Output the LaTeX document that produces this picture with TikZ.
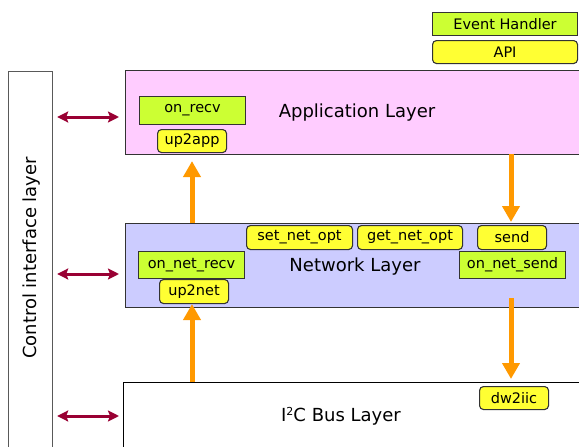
\documentclass[tikz,border=0pt]{standalone}
\usepackage{fontspec}
\setmainfont{DejaVu Sans}
\usetikzlibrary{arrows.meta,calc}
\definecolor{pinkfill}{HTML}{FFCCFF}
\definecolor{bluefill}{HTML}{CCCCFF}
\definecolor{greenfill}{HTML}{CCFF33}
\definecolor{yellowfill}{HTML}{FFFF33}
\definecolor{orangeline}{HTML}{FF9900}
\definecolor{crimson}{HTML}{990033}
\definecolor{edge}{HTML}{333333}
\begin{document}
\begin{tikzpicture}[x=1pt,y=-1pt,
  layerbox/.style={draw=edge,line width=1.2pt,anchor=north west,inner sep=0pt},
  greenbox/.style={draw=edge,line width=1.1pt,fill=greenfill,anchor=north west,inner sep=0pt,font=\fontsize{14.5}{16}\selectfont},
  yellowbox/.style={draw=edge,line width=1.1pt,fill=yellowfill,rounded corners=4pt,anchor=north west,inner sep=0pt,font=\fontsize{14.5}{16}\selectfont},
  bigtext/.style={font=\fontsize{18}{20}\selectfont,inner sep=0pt},
  flow/.style={draw=orangeline,line width=5pt,-{Triangle[width=17pt,length=16pt]}},
  ctrlarrow/.style={draw=crimson,line width=3pt,{Stealth[length=11pt,width=11pt,inset=2pt]}-{Stealth[length=11pt,width=11pt,inset=2pt]}}]
\useasboundingbox (0,0) rectangle (579,447);
\clip (0,0) rectangle (579,447);
% layers
\node[layerbox,draw=black!65,fill=white,minimum width=44pt,minimum height=400pt] (ctrl) at (8,71) {};
\node[bigtext,rotate=90] (ctrltext) at (32,258) {Control interface layer};
\node[layerbox,fill=pinkfill,minimum width=480pt,minimum height=84pt] (app) at (125,70) {};
\node[bigtext] (apptext) at (357,113) {Application Layer};
\node[layerbox,fill=bluefill,minimum width=480pt,minimum height=84pt] (net) at (125,223) {};
\node[bigtext] (nettext) at (355,267) {Network Layer};
\node[layerbox,draw=black,fill=white,minimum width=480pt,minimum height=100pt] (i2c) at (123,382) {};
\node[bigtext] (i2ctext) at (341,416) {I{\fontsize{11}{11}\selectfont\raisebox{6pt}{2}}C Bus Layer};
% top right
\node[greenbox,minimum width=145pt,minimum height=23pt] (evh) at (432,12) {Event Handler};
\node[yellowbox,minimum width=145pt,minimum height=23pt] (api) at (432,40) {API};
% application layer items
\node[greenbox,minimum width=106pt,minimum height=28pt] (onrecv) at (139,96) {on\_recv};
\node[yellowbox,minimum width=69pt,minimum height=23pt] (up2app) at (157,129) {up2app};
% network layer items
\node[yellowbox,minimum width=106pt,minimum height=24pt] (setopt) at (246,225) {set\_net\_opt};
\node[yellowbox,minimum width=105pt,minimum height=24pt] (getopt) at (357,225) {get\_net\_opt};
\node[yellowbox,minimum width=69pt,minimum height=24pt] (send) at (477,225) {send};
\node[greenbox,minimum width=106pt,minimum height=27pt] (onnetsend) at (459,251) {on\_net\_send};
\node[greenbox,minimum width=106pt,minimum height=27pt] (onnetrecv) at (138,251) {on\_net\_recv};
\node[yellowbox,minimum width=69pt,minimum height=24pt] (up2net) at (159,279) {up2net};
% i2c item
\node[yellowbox,minimum width=69pt,minimum height=23pt] (dw2iic) at (479,386) {dw2iic};
% orange flows
\coordinate (upA) at (192,382);
\coordinate (upB) at (192,223);
\draw[flow] (upA) -- (up2net.south -| upA);
\draw[flow] (upB) -- ([yshift=-8pt]up2app.south -| upB);
\coordinate (dnA) at (511,154);
\coordinate (dnB) at (511,298);
\draw[flow] (dnA) -- ([yshift=1pt]net.north -| dnA);
\draw[flow] (dnB) -- ([yshift=3pt]i2c.north -| dnB);
% control arrows
\draw[ctrlarrow] ([xshift=4pt]ctrl.east |- 0,117) -- ([xshift=-6pt]app.west |- 0,117);
\draw[ctrlarrow] ([xshift=4pt]ctrl.east |- 0,274) -- ([xshift=-6pt]net.west |- 0,274);
\draw[ctrlarrow] ([xshift=4pt]ctrl.east |- 0,416) -- ([xshift=-4pt]i2c.west |- 0,416);
\end{tikzpicture}
\end{document}
